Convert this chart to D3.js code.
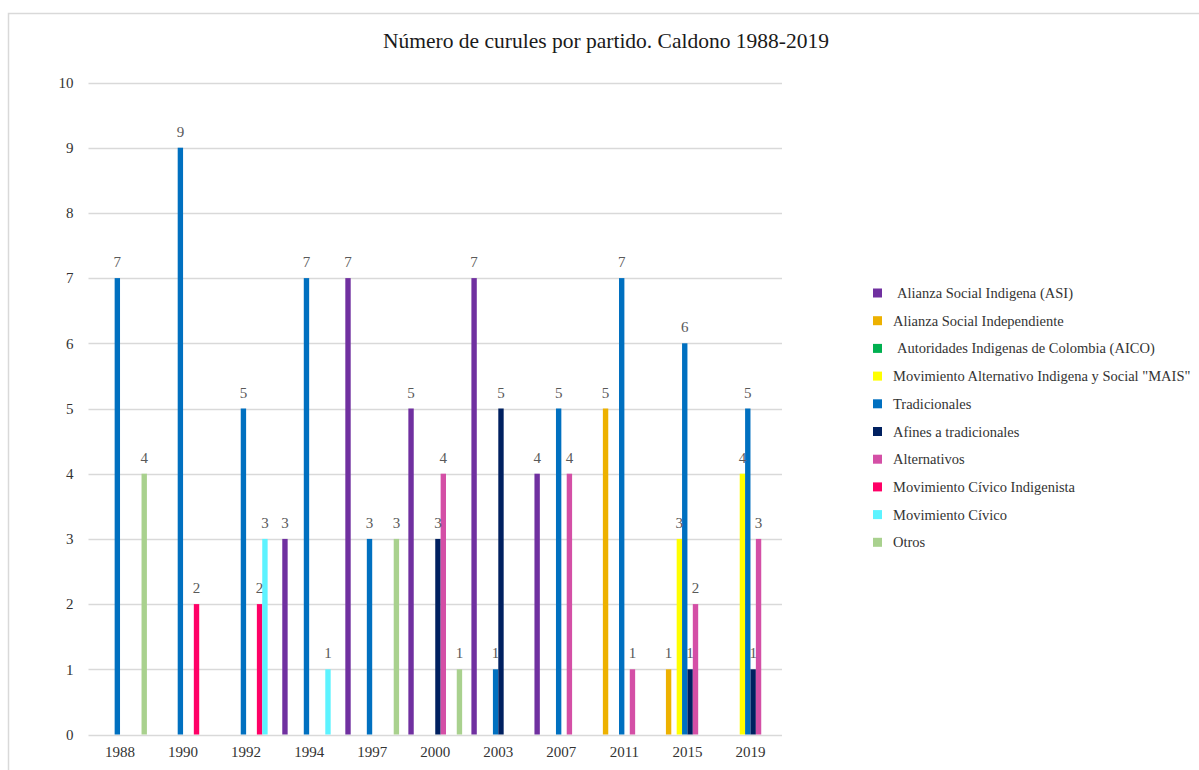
<!DOCTYPE html>
<html>
<head>
<meta charset="utf-8">
<script src="https://cdn.jsdelivr.net/npm/d3@7"></script>
<style>
  html, body { margin: 0; padding: 0; background: #fff; }
  svg text { font-family: "Liberation Serif", "Times New Roman", serif; }
</style>
</head>
<body>
<svg id="chart" width="1199" height="770"></svg>
<script>
// Election years (categories)
const years = ["1988", "1990", "1992", "1994", "1997", "2000", "2003", "2007", "2011", "2015", "2019"];

// Party groups, in legend / bar order
const parties = [
  "Alianza Social Indigena (ASI)",
  "Alianza Social Independiente",
  "Autoridades Indigenas de Colombia (AICO)",
  "Movimiento Alternativo Indigena y Social \"MAIS\"",
  "Tradicionales",
  "Afines a tradicionales",
  "Alternativos",
  "Movimiento Cívico Indigenista",
  "Movimiento Cívico",
  "Otros"
];

// Seats per party and year (null = no seats)
const asi            = [null, null, null, 3, 7, 5, 7, 4, null, null, null];
const asIndependiente= [null, null, null, null, null, null, null, null, 5, 1, null];
const aico           = [null, null, null, null, null, null, null, null, null, null, null];
const mais           = [null, null, null, null, null, null, null, null, null, 3, 4];
const tradicionales  = [7, 9, 5, 7, 3, null, 1, 5, 7, 6, 5];
const afines         = [null, null, null, null, null, 3, 5, null, null, 1, 1];
const alternativos   = [null, null, null, null, null, 4, null, 4, 1, 2, 3];
const civicoIndig    = [null, 2, 2, null, null, null, null, null, null, null, null];
const civico         = [null, null, 3, 1, null, null, null, null, null, null, null];
const otros          = [4, null, null, null, 3, 1, null, null, null, null, null];

const seriesValues = [asi, asIndependiente, aico, mais, tradicionales, afines, alternativos, civicoIndig, civico, otros];

const colors = ["#7030A0", "#EDB100", "#00B050", "#FFFF00", "#0070C0", "#002060", "#D44FA6", "#FF0066", "#5CF3FF", "#A9D18E"];

const yTicks = [0, 1, 2, 3, 4, 5, 6, 7, 8, 9, 10];

const svg = d3.select("#chart");

// Chart-area frame
svg.append("rect")
  .attr("x", 8.5).attr("y", 13.5)
  .attr("width", 1300).attr("height", 900)
  .attr("fill", "none").attr("stroke", "#D9D9D9").attr("stroke-width", 1.5);

const plot = { left: 88.5, right: 782, top: 82.5, bottom: 734.5 };

const x = d3.scaleBand().domain(years).range([plot.left, plot.right]).paddingInner(0).paddingOuter(0);
const gap = x.bandwidth() * 0.147;
const xInner = d3.scaleBand().domain(d3.range(parties.length)).range([gap / 2, x.bandwidth() - gap / 2]).padding(0);
const y = d3.scaleLinear().domain([0, 10]).range([plot.bottom, plot.top]);

// Gridlines
svg.append("g")
  .selectAll("line")
  .data(yTicks)
  .join("line")
  .attr("x1", plot.left).attr("x2", plot.right)
  .attr("y1", d => Math.round(y(d)) + 0.5).attr("y2", d => Math.round(y(d)) + 0.5)
  .attr("stroke", "#D9D9D9").attr("stroke-width", 1.3);

// Y axis labels
const yAxis = svg.append("g")
  .attr("transform", `translate(${plot.left},0)`)
  .call(d3.axisLeft(y).tickValues(yTicks).tickSize(0).tickPadding(15).tickFormat(d3.format("d")));
yAxis.select(".domain").remove();
yAxis.selectAll("text").attr("font-size", 15).attr("fill", "#333333")
  .style("font-family", "'Liberation Serif', serif");

// X axis labels
const xAxis = svg.append("g")
  .attr("transform", `translate(0,${plot.bottom})`)
  .call(d3.axisBottom(x).tickSize(0).tickPadding(12));
xAxis.select(".domain").remove();
xAxis.selectAll("text").attr("font-size", 15).attr("fill", "#333333")
  .style("font-family", "'Liberation Serif', serif");

// Bars and value labels
const flat = [];
seriesValues.forEach((vals, si) => {
  vals.forEach((v, yi) => {
    if (v !== null) flat.push({ series: si, year: years[yi], value: v });
  });
});

const bars = svg.append("g");
bars.selectAll("rect")
  .data(flat)
  .join("rect")
  .attr("x", d => x(d.year) + xInner(d.series))
  .attr("width", xInner.bandwidth())
  .attr("y", d => y(d.value))
  .attr("height", d => y(0) - y(d.value))
  .attr("fill", d => colors[d.series]);

svg.append("g")
  .selectAll("text")
  .data(flat)
  .join("text")
  .attr("x", d => x(d.year) + xInner(d.series) + xInner.bandwidth() / 2)
  .attr("y", d => y(d.value) - 11)
  .attr("text-anchor", "middle")
  .attr("font-size", 15)
  .attr("fill", "#595959")
  .text(d => d.value);

// Title
svg.append("text")
  .attr("x", 606).attr("y", 48)
  .attr("text-anchor", "middle")
  .attr("font-size", 21.5)
  .attr("fill", "#1a1a1a")
  .text("Número de curules por partido. Caldono 1988-2019");

// Legend
const legend = svg.append("g");
const legendRows = legend.selectAll("g")
  .data(parties)
  .join("g")
  .attr("transform", (d, i) => `translate(882,${293 + i * 27.7})`);
legendRows.append("rect")
  .attr("x", -9).attr("y", -4.5)
  .attr("width", 9).attr("height", 9)
  .attr("fill", (d, i) => colors[i]);
legendRows.append("text")
  .attr("x", (d, i) => (i === 0 || i === 2) ? 15 : 11)
  .attr("y", 5)
  .attr("font-size", 14.5)
  .attr("fill", "#333333")
  .text(d => d);
</script>
</body>
</html>
